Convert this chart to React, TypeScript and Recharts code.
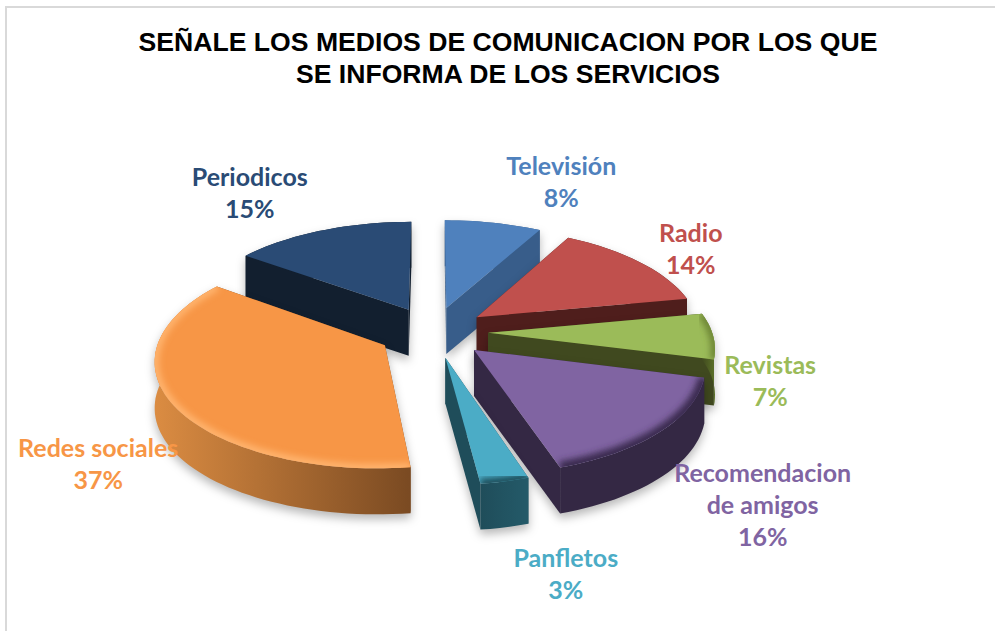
import { PieChart, Pie } from 'recharts';

// reading order of the picture, Periodicos first so that Redes sociales paints over it
const categories = ['Periodicos', 'Televisión', 'Radio', 'Revistas', 'Recomendacion de amigos', 'Panfletos', 'Redes sociales'];
const percents = [15, 8, 14, 7, 16, 3, 37];
const titleLines = ['SEÑALE LOS MEDIOS DE COMUNICACION POR LOS QUE', 'SE INFORMA DE LOS SERVICIOS'];

const chartData = categories.map((name, i) => ({ name, value: percents[i] }));

interface SliceStyle {
  top: string;
  wallFrom: string;
  wallTo: string;
  side: string;
  rim?: string;
  rimWidth?: number;
  label: [number, number];
}

const STYLES: Record<string, SliceStyle> = {
  Periodicos: { top: '#2a4b75', wallFrom: '#121f2f', wallTo: '#121f2f', side: '#121f2f', label: [-72, -35] },
  'Televisión': { top: '#4f81bd', wallFrom: '#385d8a', wallTo: '#385d8a', side: '#385d8a', label: [68, -38] },
  Radio: { top: '#c0504d', wallFrom: '#4f1e1c', wallTo: '#4f1e1c', side: '#4f1e1c', label: [51, -11] },
  Revistas: { top: '#9bbb59', wallFrom: '#40491f', wallTo: '#5c7229', side: '#40491f', rim: '#6d8536', rimWidth: 9, label: [57, 47] },
  'Recomendacion de amigos': { top: '#8064a2', wallFrom: '#342844', wallTo: '#342844', side: '#342844', rim: '#3a2c50', rimWidth: 12, label: [102, 76] },
  Panfletos: { top: '#4bacc6', wallFrom: '#1f4d5a', wallTo: '#245a69', side: '#1f4d5a', rim: '#1f4d5a', rimWidth: 10, label: [61, 95] },
  'Redes sociales': { top: '#f79646', wallFrom: '#db8c42', wallTo: '#7a4a22', side: '#7a4a22', rim: '#ffb46e', rimWidth: 9, label: [-74, 63] },
};

const LABEL_LINES: Record<string, string[]> = {
  'Recomendacion de amigos': ['Recomendacion', 'de amigos'],
};

const EXPLODE = 55;
const TILT = 0.465;
const PERSPECTIVE = 0.125;
const DEPTH = 46;
const toRad = Math.PI / 180;

// ground plane -> screen, clock angles measured from 12 o'clock
function project(cx: number, cy: number, R: number, theta: number, r: number, mid: number) {
  const gx = r * Math.sin(theta * toRad) + EXPLODE * Math.sin(mid * toRad);
  const gy = r * Math.cos(theta * toRad) + EXPLODE * Math.cos(mid * toRad);
  const s = 1 / (1 + (PERSPECTIVE * gy) / R);
  return { x: cx + gx * s, y: cy - gy * TILT * s };
}

const pathOf = (pts: { x: number; y: number }[], close = true) =>
  pts.map((p, i) => `${i ? 'L' : 'M'}${p.x.toFixed(1)} ${p.y.toFixed(1)}`).join(' ') + (close ? ' Z' : '');

const drop = (p: { x: number; y: number }) => ({ x: p.x, y: p.y + DEPTH });

function Slice3D(props: any) {
  const { cx, cy, outerRadius: R, startAngle, endAngle, name } = props;
  const style = STYLES[name];
  const from = 90 - startAngle;
  const to = 90 - endAngle;
  const mid = (from + to) / 2;
  const apex = project(cx, cy, R, 0, 0, mid);
  const arc = [];
  const steps = Math.max(4, Math.round((to - from) / 2));
  for (let i = 0; i <= steps; i++) {
    arc.push(project(cx, cy, R, from + ((to - from) * i) / steps, R, mid));
  }
  const first = arc[0];
  const last = arc[arc.length - 1];
  const id = name.replace(/[^a-zA-Z]/g, '');
  return (
    <g style={{ filter: 'drop-shadow(0px 5px 5px rgba(0,0,0,0.28))' }}>
      <defs>
        <linearGradient id={`wall-${id}`} x1="0" x2="1" y1="0" y2="0">
          <stop offset="0%" stopColor={style.wallFrom} />
          <stop offset="100%" stopColor={style.wallTo} />
        </linearGradient>
        <clipPath id={`face-${id}`}>
          <path d={pathOf([apex, ...arc])} />
        </clipPath>
        <filter id={`soft-${id}`} x="-20%" y="-20%" width="140%" height="140%">
          <feGaussianBlur stdDeviation="3" />
        </filter>
      </defs>
      <path d={pathOf([apex, first, drop(first), drop(apex)])} fill={style.side} />
      <path d={pathOf([apex, last, drop(last), drop(apex)])} fill={style.side} />
      <path d={pathOf([...arc, ...arc.map(drop).reverse()])} fill={`url(#wall-${id})`} />
      <path d={pathOf([apex, ...arc])} fill={style.top} />
      {style.rim && (
        <g clipPath={`url(#face-${id})`}>
          <path
            d={pathOf(arc, false)}
            fill="none"
            stroke={style.rim}
            strokeWidth={style.rimWidth}
            filter={`url(#soft-${id})`}
          />
        </g>
      )}
    </g>
  );
}

function SliceLabel(props: any) {
  const { cx, cy, outerRadius: R, midAngle, name, value } = props;
  const style = STYLES[name];
  const mid = 90 - midAngle;
  const anchor = project(cx, cy, R, mid, R, mid);
  const lines = [...(LABEL_LINES[name] ?? [name]), `${value}%`];
  const x = anchor.x + style.label[0];
  const y = anchor.y + style.label[1] - ((lines.length - 1) * 32) / 2;
  return (
    <text
      x={x}
      y={y}
      textAnchor="middle"
      fill={style.top}
      fontFamily="Lato, sans-serif"
      fontWeight={700}
      fontSize={25}
    >
      {lines.map((line, i) => (
        <tspan key={line} x={x} y={y + i * 32} dominantBaseline="middle">
          {line}
        </tspan>
      ))}
    </text>
  );
}

export default function App() {
  return (
    <div style={{ position: 'absolute', left: 0, top: 0, width: 995, height: 631, overflow: 'hidden', background: '#fff' }}>
      <div style={{ position: 'absolute', left: 5, top: 6, width: 1000, height: 640, border: '2px solid #d9d9d9' }} />
      <div
        style={{
          position: 'absolute',
          left: 0,
          top: 26,
          width: 1016,
          textAlign: 'center',
          fontFamily: '"Liberation Sans", Arial, sans-serif',
          fontWeight: 700,
          fontSize: 26.6,
          lineHeight: '32px',
          color: '#000',
        }}
      >
        {titleLines.map((line) => (
          <div key={line}>{line}</div>
        ))}
      </div>
      <div style={{ position: 'absolute', left: 0, top: 0 }}>
        <PieChart width={995} height={631} margin={{ top: 0, right: 0, bottom: 0, left: 0 }}>
          <Pie
            data={chartData}
            dataKey="value"
            nameKey="name"
            cx={433}
            cy={332}
            innerRadius={0}
            outerRadius={224}
            startAngle={144}
            endAngle={-216}
            stroke="none"
            shape={Slice3D}
            label={SliceLabel}
            labelLine={false}
            isAnimationActive={false}
          />
        </PieChart>
      </div>
    </div>
  );
}
